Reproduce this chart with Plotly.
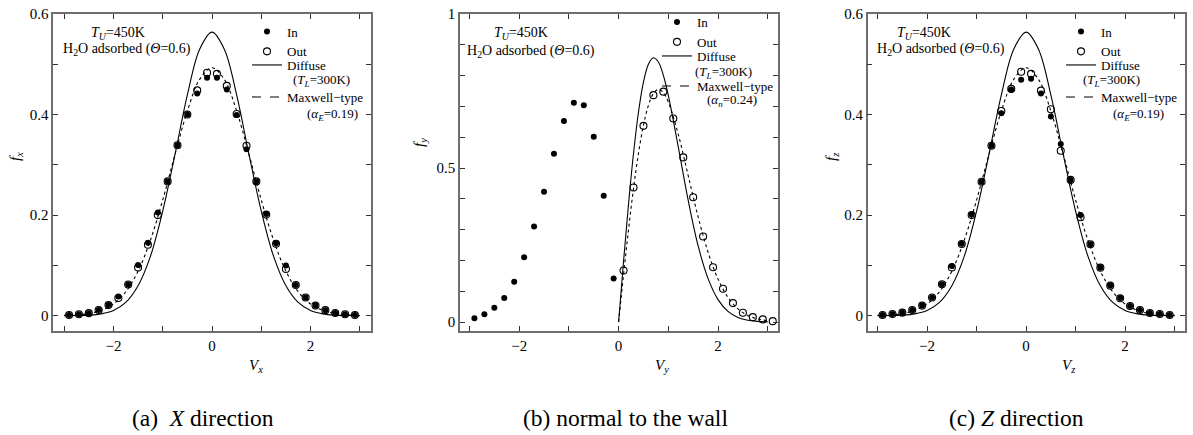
import plotly.graph_objects as go

# ---------------- data ----------------
v_bins = [-2.9, -2.7, -2.5, -2.3, -2.1, -1.9, -1.7, -1.5, -1.3, -1.1, -0.9, -0.7, -0.5, -0.3, -0.1,
          0.1, 0.3, 0.5, 0.7, 0.9, 1.1, 1.3, 1.5, 1.7, 1.9, 2.1, 2.3, 2.5, 2.7, 2.9]

a_in = [0.0014, 0.0028, 0.005, 0.0115, 0.021, 0.038, 0.062, 0.101, 0.145, 0.205, 0.267, 0.339, 0.400, 0.442, 0.473,
        0.473, 0.450, 0.399, 0.331, 0.267, 0.202, 0.144, 0.100, 0.061, 0.036, 0.020, 0.011, 0.0054, 0.0028, 0.0014]
a_out = [0.0014, 0.0028, 0.005, 0.0113, 0.021, 0.035, 0.062, 0.096, 0.141, 0.200, 0.267, 0.339, 0.400, 0.448, 0.483,
         0.481, 0.457, 0.401, 0.338, 0.267, 0.201, 0.143, 0.093, 0.061, 0.036, 0.020, 0.011, 0.0054, 0.0028, 0.0014]

c_in = [0.0014, 0.0034, 0.006, 0.0113, 0.020, 0.036, 0.0624, 0.099, 0.143, 0.201, 0.2665, 0.338, 0.4025, 0.450, 0.469,
        0.471, 0.442, 0.396, 0.3415, 0.270, 0.200, 0.142, 0.096, 0.060, 0.035, 0.0193, 0.0113, 0.0054, 0.0034, 0.0014]
c_out = [0.0014, 0.0034, 0.006, 0.0113, 0.020, 0.036, 0.0624, 0.096, 0.1426, 0.200, 0.2665, 0.338, 0.407, 0.451, 0.485,
         0.481, 0.4475, 0.4105, 0.328, 0.270, 0.1957, 0.142, 0.0955, 0.0597, 0.0346, 0.0193, 0.0113, 0.0054, 0.0034, 0.0014]

b_in_v = [-2.9, -2.7, -2.5, -2.3, -2.1, -1.9, -1.7, -1.5, -1.3, -1.1, -0.9, -0.7, -0.5, -0.3, -0.1]
b_in = [0.012, 0.025, 0.0466, 0.078, 0.131, 0.2106, 0.310, 0.4234, 0.5465, 0.6524, 0.7117, 0.704, 0.6016, 0.410, 0.1416]
b_out_v = [0.1, 0.3, 0.5, 0.7, 0.9, 1.1, 1.3, 1.5, 1.7, 1.9, 2.1, 2.3, 2.5, 2.7, 2.9, 3.1]
b_out = [0.1675, 0.437, 0.637, 0.7366, 0.748, 0.661, 0.5345, 0.405, 0.2776, 0.178, 0.108, 0.0616, 0.030, 0.016, 0.0087, 0.003]

v_curve_ac = [-3.0, -2.75, -2.5, -2.25, -2.0, -1.75, -1.5, -1.25, -1.0, -0.75, -0.5, -0.25, 0.0,
              0.25, 0.5, 0.75, 1.0, 1.25, 1.5, 1.75, 2.0, 2.25, 2.5, 2.75, 3.0]
diffuse_ac = [0.0001, 0.0003, 0.0011, 0.0036, 0.0103, 0.0264, 0.0595, 0.118, 0.208, 0.321, 0.439, 0.530, 0.564,
              0.530, 0.439, 0.321, 0.208, 0.118, 0.0595, 0.0264, 0.0103, 0.0036, 0.0011, 0.0003, 0.0001]
maxwell_ac = [0.0005, 0.0015, 0.0042, 0.0103, 0.0232, 0.0476, 0.0884, 0.150, 0.230, 0.321, 0.407, 0.470, 0.493,
              0.470, 0.407, 0.321, 0.230, 0.150, 0.0884, 0.0476, 0.0232, 0.0103, 0.0042, 0.0015, 0.0005]

v_curve_b = [0.0, 0.1, 0.2, 0.3, 0.4, 0.5, 0.6, 0.7, 0.8, 0.9, 1.0,
             1.2, 1.4, 1.6, 1.8, 2.0, 2.2, 2.4, 2.6, 2.8, 3.0]
diffuse_b = [0.0, 0.198, 0.384, 0.548, 0.682, 0.779, 0.837, 0.858, 0.844, 0.801, 0.736,
             0.569, 0.395, 0.247, 0.141, 0.073, 0.0348, 0.0151, 0.006, 0.0022, 0.0007]
maxwell_b = [0.0, 0.154, 0.3005, 0.434, 0.548, 0.6385, 0.7036, 0.742, 0.755, 0.7447, 0.714,
             0.609, 0.475, 0.341, 0.2266, 0.1397, 0.0801, 0.0429, 0.0214, 0.010, 0.0044]

x_tickvals = [-3, -2, -1, 0, 1, 2, 3]
x_ticktext = ["", "\u22122", "", "0", "", "2", ""]
y_tickvals_ac = [0, 0.1, 0.2, 0.3, 0.4, 0.5, 0.6]
y_ticktext_ac = ["0", "", "0.2", "", "0.4", "", "0.6"]
y_tickvals_b = [0, 0.1, 0.2, 0.3, 0.4, 0.5, 0.6, 0.7, 0.8, 0.9, 1.0]
y_ticktext_b = ["0", "", "", "", "", "0.5", "", "", "", "", "1"]

# ---------------- layout helpers ----------------
W, H = 1193, 435
FONT = "Liberation Serif"


def px(x):
    return x / W


def py(y):
    return 1 - y / H


NB = "\u00a0"

fig = go.Figure()

panels = [
    dict(k="", xd=(53.3, 370.7), xr=[-3.22, 3.22], yr=[-0.0305, 0.6],
         ytv=y_tickvals_ac, ytt=y_ticktext_ac,
         vin=v_bins, fin=a_in, vout=v_bins, fout=a_out,
         vc=v_curve_ac, dif=diffuse_ac, mx=maxwell_ac, leg=("legend", "legend2", "legend3")),
    dict(k="2", xd=(460.0, 777.7), xr=[-3.19, 3.2], yr=[-0.029, 1.0],
         ytv=y_tickvals_b, ytt=y_ticktext_b,
         vin=b_in_v, fin=b_in, vout=b_out_v, fout=b_out,
         vc=v_curve_b, dif=diffuse_b, mx=maxwell_b, leg=("legend4", "legend5", "legend6")),
    dict(k="3", xd=(867.7, 1185.0), xr=[-3.2, 3.21], yr=[-0.0305, 0.6],
         ytv=y_tickvals_ac, ytt=y_ticktext_ac,
         vin=v_bins, fin=c_in, vout=v_bins, fout=c_out,
         vc=v_curve_ac, dif=diffuse_ac, mx=maxwell_ac, leg=("legend7", "legend8", "legend9")),
]

for p in panels:
    xa = "x" + p["k"]
    ya = "y" + p["k"]
    l1, l2, l3 = p["leg"]
    fig.add_trace(go.Scatter(x=p["vc"], y=p["dif"], mode="lines", name="Diffuse",
                             line=dict(color="black", width=1.1, shape="spline"),
                             xaxis=xa, yaxis=ya, legend=l2))
    fig.add_trace(go.Scatter(x=p["vc"], y=p["mx"], mode="lines", name="Maxwell\u2212type",
                             line=dict(color="black", width=1.1, dash="dot", shape="spline"),
                             xaxis=xa, yaxis=ya, showlegend=False))
    fig.add_trace(go.Scatter(x=[None], y=[None], mode="lines", name="Maxwell\u2212type",
                             line=dict(color="black", width=1.1, dash="dash"),
                             xaxis=xa, yaxis=ya, legend=l3))
    fig.add_trace(go.Scatter(x=p["vin"], y=p["fin"], mode="markers", name="In",
                             marker=dict(symbol="circle", size=6, color="black"),
                             xaxis=xa, yaxis=ya, legend=l1, legendrank=1))
    fig.add_trace(go.Scatter(x=p["vout"], y=p["fout"], mode="markers", name="Out",
                             marker=dict(symbol="circle-open", size=7, color="black",
                                         line=dict(width=1.1)),
                             xaxis=xa, yaxis=ya, legend=l1, legendrank=2))

axis_common = dict(showline=True, linecolor="#6e6e6e", linewidth=1.5, mirror="ticks",
                   ticks="inside", ticklen=5, tickwidth=1, tickcolor="#333333",
                   showgrid=False, zeroline=False, automargin=False,
                   tickfont=dict(family=FONT, size=15, color="black"))

lay = {}
for p in panels:
    xn = "xaxis" + p["k"]
    yn = "yaxis" + p["k"]
    lay[xn] = dict(axis_common, domain=[px(p["xd"][0]), px(p["xd"][1])], range=p["xr"],
                   tickmode="array", tickvals=x_tickvals, ticktext=x_ticktext,
                   anchor="y" + p["k"])
    lay[yn] = dict(axis_common, domain=[py(331), py(14)], range=p["yr"],
                   tickmode="array", tickvals=p["ytv"], ticktext=p["ytt"],
                   anchor="x" + p["k"])

legfont = dict(family=FONT, size=13, color="black")
leg_common = dict(bgcolor="rgba(0,0,0,0)", borderwidth=0, font=legfont,
                  xanchor="left", yanchor="middle", itemwidth=30, tracegroupgap=0)


def L(xleft, ymid):
    return dict(leg_common, x=px(xleft), y=py(ymid))


# (a)
lay["legend"] = L(247, 41.5)
lay["legend2"] = L(247, 65)
lay["legend3"] = L(247, 97)
# (b)
lay["legend4"] = L(657, 32)
lay["legend5"] = L(657, 56)
lay["legend6"] = L(657, 86)
# (c)
lay["legend7"] = L(1061, 41.5)
lay["legend8"] = L(1061, 65)
lay["legend9"] = L(1061, 97)

ann = []


def A(x, y, text, size=14, xanchor="center", angle=0):
    ann.append(dict(x=px(x), y=py(y), xref="paper", yref="paper", text=text, showarrow=False,
                    xanchor=xanchor, yanchor="middle", textangle=angle,
                    font=dict(family=FONT, size=size, color="black")))


TU = "<i>T</i><sub><i>U</i></sub>=450K"
H2O = "H<sub>2</sub>O adsorbed (<i>\u0398</i>=0.6)"
TL = "(<i>T</i><sub><i>L</i></sub>=300K)"
# panel a
A(118, 33, TU)
A(127, 50, H2O)
A(291, 80, TL, 13, "left")
A(305, 114, "(<i>\u03b1</i><sub><i>E</i></sub>=0.19)", 13, "left")
A(16, 157, "<i>f</i><sub><i>x</i></sub>", 15, angle=-90)
A(256, 366, "<i>V</i><sub><i>x</i></sub>", 15)
A(203, 418, "(a)" + NB + NB + "<i>X</i> direction", 23.5)
# panel b
A(521, 34, TU)
A(531, 52, H2O)
A(693, 72, TL, 13, "left")
A(705, 101, "(<i>\u03b1</i><sub><i>n</i></sub>=0.24)", 13, "left")
A(420, 143, "<i>f</i><sub><i>y</i></sub>", 15, angle=-90)
A(662, 366, "<i>V</i><sub><i>y</i></sub>", 15)
A(625, 418, "(b) normal to the wall", 23.5)
# panel c
A(924, 33, TU)
A(941, 50, H2O)
A(1081, 80, TL, 13, "left")
A(1111, 114, "(<i>\u03b1</i><sub><i>E</i></sub>=0.19)", 13, "left")
A(832, 157, "<i>f</i><sub><i>z</i></sub>", 15, angle=-90)
A(1068, 366, "<i>V</i><sub><i>z</i></sub>", 15)
A(1016, 418, "(c) <i>Z</i> direction", 23.5)

fig.update_layout(width=W, height=H, margin=dict(l=0, r=0, t=0, b=0, pad=0, autoexpand=False),
                  paper_bgcolor="white", plot_bgcolor="white",
                  font=dict(family=FONT, color="black"),
                  annotations=ann, **lay)

fig.write_html("out.html")
